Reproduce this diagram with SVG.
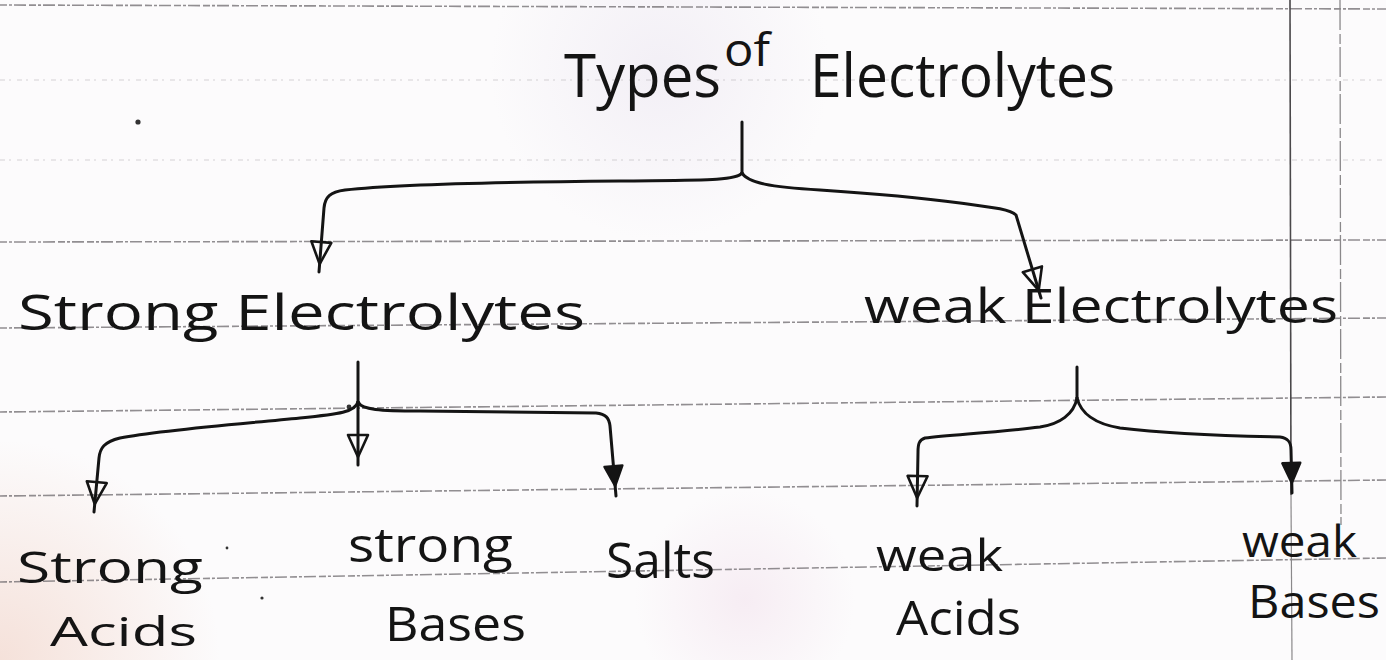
<svg xmlns="http://www.w3.org/2000/svg" width="1386" height="660" viewBox="0 0 1386 660">
  <style>
    .hand { font-family: 'Open Sans', Lato, 'Liberation Sans', sans-serif; font-weight: 400; fill: #141414; }
    .rule { stroke: #6e6a6e; stroke-width: 1.6; stroke-dasharray: 7 2 3 2 12 3; fill: none; opacity: 0.75; }
    .rule-faint { stroke: #bdb9bd; stroke-width: 1.2; stroke-dasharray: 5 4 2 6; fill: none; opacity: 0.6; }
    .ink { stroke: #141414; stroke-width: 3; fill: none; stroke-linecap: round; stroke-linejoin: round; }
    .speck { fill: #333; }
  </style>
  <defs>
    <marker id="open" markerUnits="userSpaceOnUse" viewBox="-2 -2 34 24" markerWidth="34" markerHeight="24" refX="30" refY="10" orient="auto">
      <path d="M0,0 L22,10 L0,20 Z" fill="none" stroke="#141414" stroke-width="2.6" stroke-linejoin="round"/>
    </marker>
    <marker id="solid" markerUnits="userSpaceOnUse" viewBox="-2 -2 34 24" markerWidth="34" markerHeight="24" refX="30" refY="10" orient="auto">
      <path d="M0,1 L20,10 L0,19 Z" fill="#141414" stroke="#141414" stroke-width="2.4" stroke-linejoin="round"/>
    </marker>
    <radialGradient id="tintBL" cx="0" cy="660" r="220" gradientUnits="userSpaceOnUse">
      <stop offset="0" stop-color="#f2d6cb" stop-opacity="0.7"/>
      <stop offset="1" stop-color="#f2d6cb" stop-opacity="0"/>
    </radialGradient>
    <radialGradient id="tintMid" cx="745" cy="600" r="110" gradientUnits="userSpaceOnUse">
      <stop offset="0" stop-color="#f5e9f1" stop-opacity="0.8"/>
      <stop offset="1" stop-color="#f5e9f1" stop-opacity="0"/>
    </radialGradient>
    <radialGradient id="tintTop" cx="660" cy="70" r="170" gradientUnits="userSpaceOnUse">
      <stop offset="0" stop-color="#f0ecf4" stop-opacity="0.8"/>
      <stop offset="1" stop-color="#f0ecf4" stop-opacity="0"/>
    </radialGradient>
  </defs>

  <!-- paper -->
  <rect x="0" y="0" width="1386" height="660" fill="#fcfbfc"/>
  <rect x="0" y="0" width="1386" height="660" fill="url(#tintBL)"/>
  <rect x="0" y="0" width="1386" height="660" fill="url(#tintMid)"/>
  <rect x="0" y="0" width="1386" height="660" fill="url(#tintTop)"/>

  <!-- ruled lines -->
  <g id="ruling">
    <line class="rule" x1="0" y1="5" x2="1386" y2="9"/>
    <line class="rule-faint" x1="0" y1="80" x2="1386" y2="80"/>
    <line class="rule-faint" x1="0" y1="160" x2="1386" y2="160"/>
    <line class="rule" x1="0" y1="242" x2="1386" y2="240"/>
    <line class="rule" x1="0" y1="328" x2="1386" y2="318"/>
    <line class="rule" x1="0" y1="412" x2="1386" y2="397"/>
    <line class="rule" x1="0" y1="496" x2="1386" y2="480"/>
    <line class="rule" x1="0" y1="582" x2="1386" y2="558"/>
    <line x1="1290" y1="0" x2="1291" y2="495" stroke="#4a484a" stroke-width="1.6"/>
    <line x1="1291" y1="495" x2="1292" y2="660" stroke="#8a888a" stroke-width="1.2"/>
    <line x1="1340" y1="0" x2="1341" y2="525" stroke="#8a888a" stroke-width="1.3" stroke-dasharray="30 4 10 3"/>
    <circle class="speck" cx="138" cy="122" r="2.6"/>
    <circle class="speck" cx="349" cy="407" r="2.4"/>
    <circle class="speck" cx="262" cy="598" r="1.6"/>
    <circle class="speck" cx="227" cy="548" r="1.4"/>
  </g>

  <!-- connectors -->
  <g id="connectors">
    <path class="ink" d="M742,122 L742,173"/>
    <path class="ink" marker-end="url(#open)" d="M742,173 C736,181 700,180 620,181 C500,182 400,184 345,190 C330,192 325,197 324,208 L319,272"/>
    <path class="ink" marker-end="url(#open)" d="M742,173 C748,183 770,187 820,190 C880,194 930,199 960,203 C990,207 1010,209 1016,215 L1041,298"/>

    <path class="ink" d="M358,362 L358,402"/>
    <path class="ink" marker-end="url(#open)" d="M358,402 L358,465"/>
    <path class="ink" marker-end="url(#open)" d="M358,402 C355,412 340,414 300,418 C240,424 160,430 120,438 C104,442 100,448 99,458 L94,512"/>
    <path class="ink" marker-end="url(#solid)" d="M358,402 C362,410 380,411 420,411 L596,413 C606,414 609,418 610,426 L616,496"/>

    <path class="ink" d="M1077,367 L1077,398"/>
    <path class="ink" marker-end="url(#open)" d="M1077,398 C1074,414 1060,424 1040,427 C1000,432 950,435 925,438 C919,440 918,444 918,452 L917,506"/>
    <path class="ink" marker-end="url(#solid)" d="M1077,398 C1081,414 1096,424 1120,428 C1160,433 1230,436 1280,437 C1288,438 1291,442 1291,450 L1292,493"/>
  </g>

  <!-- nodes -->
  <g id="node-types">
    <text class="hand" x="564" y="97" font-size="60" textLength="157" lengthAdjust="spacingAndGlyphs">Types</text>
    <text class="hand" x="724" y="66" font-size="46" textLength="46" lengthAdjust="spacingAndGlyphs">of</text>
    <text class="hand" x="810" y="97" font-size="60" textLength="305" lengthAdjust="spacingAndGlyphs">Electrolytes</text>
  </g>
  <g id="node-strong">
    <text class="hand" x="18" y="330" font-size="50" textLength="567" lengthAdjust="spacingAndGlyphs">Strong Electrolytes</text>
  </g>
  <g id="node-weak">
    <text class="hand" x="864" y="323" font-size="48" textLength="474" lengthAdjust="spacingAndGlyphs">weak Electrolytes</text>
  </g>
  <g id="node-strong-acids">
    <text class="hand" x="17" y="583" font-size="44" textLength="186" lengthAdjust="spacingAndGlyphs">Strong</text>
    <text class="hand" x="50" y="646" font-size="40" textLength="147" lengthAdjust="spacingAndGlyphs">Acids</text>
  </g>
  <g id="node-strong-bases">
    <text class="hand" x="348" y="562" font-size="48" textLength="165" lengthAdjust="spacingAndGlyphs">strong</text>
    <text class="hand" x="385" y="641" font-size="48" textLength="141" lengthAdjust="spacingAndGlyphs">Bases</text>
  </g>
  <g id="node-salts">
    <text class="hand" x="606" y="578" font-size="50" textLength="109" lengthAdjust="spacingAndGlyphs">Salts</text>
  </g>
  <g id="node-weak-acids">
    <text class="hand" x="876" y="571" font-size="44" textLength="127" lengthAdjust="spacingAndGlyphs">weak</text>
    <text class="hand" x="896" y="635" font-size="48" textLength="125" lengthAdjust="spacingAndGlyphs">Acids</text>
  </g>
  <g id="node-weak-bases">
    <text class="hand" x="1242" y="557" font-size="44" textLength="115" lengthAdjust="spacingAndGlyphs">weak</text>
    <text class="hand" x="1248" y="618" font-size="46" textLength="132" lengthAdjust="spacingAndGlyphs">Bases</text>
  </g>
</svg>
